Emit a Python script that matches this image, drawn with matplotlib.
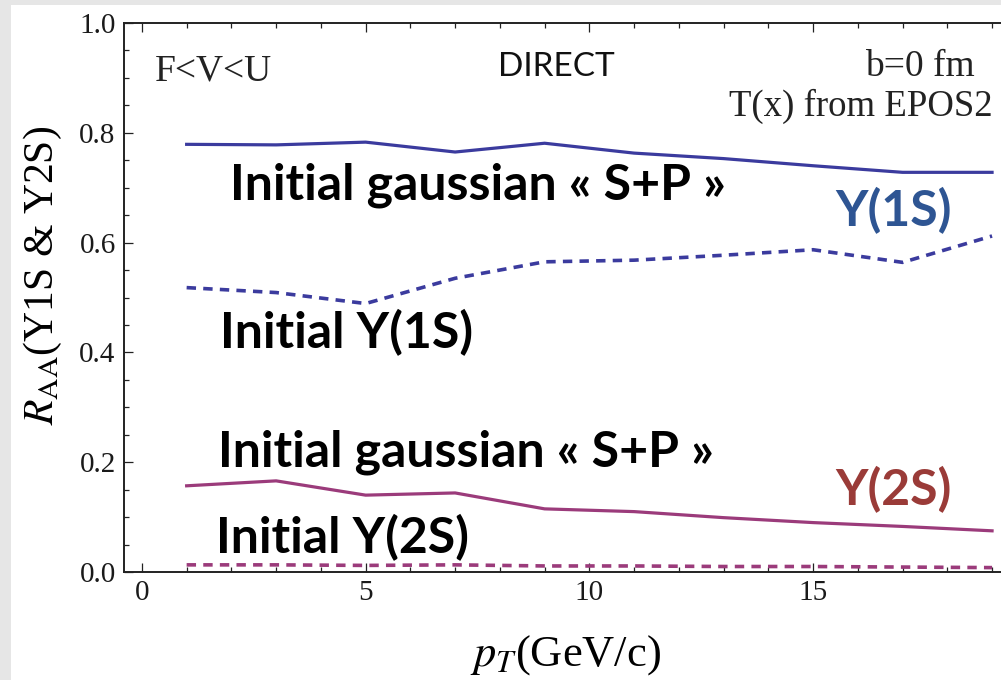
import matplotlib
matplotlib.use("Agg")
import matplotlib.pyplot as plt
from matplotlib.patches import Rectangle
from matplotlib.ticker import MultipleLocator

# values (pT in GeV/c)
pt = [1, 3, 5, 7, 9, 11, 13, 15, 17, 19]
y1s_gauss = [0.779, 0.778, 0.783, 0.765, 0.781, 0.763, 0.753, 0.740, 0.728, 0.728]
y1s_init = [0.518, 0.509, 0.489, 0.535, 0.565, 0.568, 0.577, 0.587, 0.564, 0.612]
y2s_gauss = [0.157, 0.166, 0.140, 0.144, 0.115, 0.110, 0.099, 0.090, 0.083, 0.075]
y2s_init = [0.013, 0.013, 0.012, 0.013, 0.011, 0.011, 0.010, 0.010, 0.009, 0.008]

c1s = "#3b3b9e"
c2s = "#9b3b7b"

plt.rcParams["font.family"] = ["Liberation Serif", "DejaVu Serif"]
plt.rcParams["mathtext.fontset"] = "stix"

fig = plt.figure(figsize=(10.01, 6.8), dpi=100, facecolor="#e6e6e6")
# white slide area
fig.patches.append(Rectangle((11 / 1001, 0), 1, (680 - 5) / 680,
                             transform=fig.transFigure, facecolor="white",
                             edgecolor="none", zorder=-5))

ax = fig.add_axes([124 / 1001, 108 / 680, 877 / 1001, 549 / 680])
ax.set_facecolor("none")

dash = (0, (2.6, 2.0))
ax.plot(pt, y1s_gauss, color=c1s, lw=2.3)
ax.plot(pt, y1s_init, color=c1s, lw=2.6, linestyle=dash)
ax.plot(pt, y2s_gauss, color=c2s, lw=2.3)
ax.plot(pt, y2s_init, color=c2s, lw=2.6, linestyle=dash)

ax.set_xlim(-0.4, 19.2)
ax.set_ylim(0, 1.0)
ax.xaxis.set_major_locator(MultipleLocator(5))
ax.xaxis.set_minor_locator(MultipleLocator(1))
ax.yaxis.set_major_locator(MultipleLocator(0.2))
ax.yaxis.set_minor_locator(MultipleLocator(0.05))
ax.yaxis.set_major_formatter(plt.FuncFormatter(lambda v, p: f"{v:.1f}"))

ax.spines["right"].set_visible(False)
for s in ["left", "top", "bottom"]:
    ax.spines[s].set_linewidth(1.4)
    ax.spines[s].set_color("#222222")
ax.tick_params(which="both", direction="in", top=True, right=False,
               color="#222222", width=0.9, labelsize=21, labelcolor="#1a1a1a", pad=6)
ax.tick_params(which="major", length=6.5)
ax.tick_params(which="minor", length=3.8)

ax.set_xlabel("$p_T$(GeV/c)", fontsize=32)
ax.xaxis.set_label_coords(0.503, -0.112)
ax.set_ylabel("$R_{\\mathrm{AA}}$(Y1S & Y2S)", fontsize=30)
ax.yaxis.set_label_coords(-0.068, 0.541)

# corner notes
ax.text(0.29, 0.896, "F<V<U", fontsize=27, color="#222222")
ax.text(7.96, 0.903, "DIRECT", fontsize=24, family="Lato", color="#111111")
ax.text(18.62, 0.903, "b=0 fm", fontsize=27, ha="right", color="#222222")
ax.text(19.02, 0.830, "T(x) from EPOS2", fontsize=26.5, ha="right", color="#222222")

# big slide annotations
big = dict(fontsize=36, family="Lato", fontweight="bold")
ax.text(1.97, 0.679, "Initial gaussian « S+P »", color="black", **big)
ax.text(15.50, 0.630, "Y(1S)", color="#2e5593", **big)
ax.text(1.75, 0.407, "Initial Y(1S)", color="black", **big)
ax.text(1.70, 0.192, "Initial gaussian « S+P »", color="black", **big)
ax.text(15.50, 0.122, "Y(2S)", color="#9a3b38", **big)
ax.text(1.66, 0.035, "Initial Y(2S)", color="black", **big)

fig.savefig("out.png", dpi=100, facecolor=fig.get_facecolor())
